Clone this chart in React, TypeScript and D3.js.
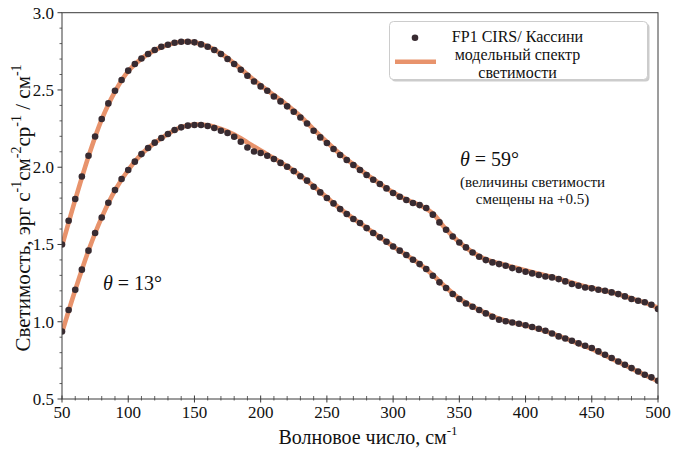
import React from "react";
import * as d3 from "d3";

// x grid of the measured points (cm^-1)
const WN_START = 50;
const WN_STEP = 5;
// x grid of the model curves
const MODEL_STEP = 10;

// θ = 59° (shifted by +0.5), CIRS points
const upperPoints = [
  1.5, 1.654, 1.794, 1.94, 2.074, 2.199, 2.312, 2.413, 2.495, 2.564,
  2.625, 2.668, 2.704, 2.733, 2.759, 2.78, 2.793, 2.806, 2.812, 2.812,
  2.808, 2.795, 2.78, 2.759, 2.733, 2.7, 2.668, 2.631, 2.592, 2.555,
  2.523, 2.495, 2.458, 2.426, 2.394, 2.359, 2.322, 2.283, 2.236, 2.193,
  2.157, 2.118, 2.079, 2.047, 2.014, 1.982, 1.95, 1.919, 1.891, 1.863,
  1.833, 1.809, 1.788, 1.768, 1.755, 1.736, 1.693, 1.643, 1.595, 1.552,
  1.513, 1.481, 1.448, 1.421, 1.399, 1.384, 1.373, 1.362, 1.347, 1.335,
  1.324, 1.313, 1.302, 1.293, 1.287, 1.276, 1.261, 1.244, 1.233, 1.222,
  1.216, 1.207, 1.201, 1.19, 1.179, 1.164, 1.147, 1.136, 1.126, 1.11,
  1.082,
];

// θ = 13°, CIRS points
const lowerPoints = [
  0.937, 1.076, 1.207, 1.337, 1.46, 1.574, 1.675, 1.77, 1.852, 1.924,
  1.982, 2.036, 2.085, 2.124, 2.159, 2.189, 2.215, 2.241, 2.258, 2.269,
  2.273, 2.273, 2.267, 2.254, 2.236, 2.221, 2.197, 2.165, 2.128, 2.102,
  2.092, 2.074, 2.053, 2.028, 2.003, 1.975, 1.942, 1.913, 1.874, 1.837,
  1.801, 1.766, 1.729, 1.697, 1.665, 1.639, 1.606, 1.574, 1.546, 1.518,
  1.487, 1.46, 1.432, 1.401, 1.373, 1.341, 1.298, 1.255, 1.218, 1.18,
  1.147, 1.118, 1.097, 1.076, 1.054, 1.032, 1.013, 1.003, 0.995, 0.987,
  0.977, 0.966, 0.955, 0.942, 0.924, 0.905, 0.892, 0.877, 0.86, 0.845,
  0.83, 0.808, 0.786, 0.765, 0.743, 0.722, 0.7, 0.678, 0.657, 0.64,
  0.618,
];

// model radiance spectra (every 10 cm^-1 from 50)
const upperModel = [
  1.49, 1.79, 2.07, 2.31, 2.49, 2.622, 2.703, 2.758, 2.793, 2.812,
  2.808, 2.782, 2.736, 2.672, 2.6, 2.53, 2.466, 2.402, 2.33, 2.245,
  2.163, 2.085, 2.018, 1.953, 1.893, 1.836, 1.79, 1.755, 1.7, 1.598,
  1.515, 1.45, 1.404, 1.378, 1.355, 1.332, 1.31, 1.29, 1.266, 1.24,
  1.218, 1.2, 1.178, 1.15, 1.124, 1.09,
];
const lowerModel = [
  0.93, 1.205, 1.46, 1.675, 1.85, 1.982, 2.085, 2.158, 2.215, 2.259,
  2.276, 2.272, 2.248, 2.212, 2.16, 2.108, 2.058, 2.006, 1.946, 1.877,
  1.804, 1.732, 1.668, 1.608, 1.548, 1.488, 1.432, 1.374, 1.303, 1.222,
  1.15, 1.098, 1.056, 1.02, 0.996, 0.975, 0.952, 0.925, 0.892, 0.857,
  0.824, 0.782, 0.74, 0.698, 0.655, 0.615,
];

const xMajorTicks = [50, 100, 150, 200, 250, 300, 350, 400, 450, 500];
const yMajorTicks = [0.5, 1.0, 1.5, 2.0, 2.5, 3.0];

const legendLabels = ["FP1 CIRS/ Кассини", "модельный спектр", "светимости"];
const xTitle = "Волновое число, см";
const theta13 = "13°";
const theta59 = "59°";
const noteLines = ["(величины светимости", "смещены на +0.5)"];

const W = 675;
const H = 449;
const DOT = "#382b31";
const MODEL = "#e8936c";
const AXIS = "#3a3a3a";
const TS = { fontFamily: '"Liberation Serif", serif' } as React.CSSProperties;

export default function App() {
  const x = d3.scaleLinear().domain([50, 500]).range([62, 658]);
  const y = d3.scaleLinear().domain([0.5, 3.0]).range([399, 12.7]);
  const [x0, x1] = x.range();
  const [y0, y1] = y.range();

  const toPts = (vals: number[], step: number) =>
    vals.map((v, i) => [WN_START + i * step, v] as [number, number]);

  const line = d3
    .line<[number, number]>()
    .x((d) => x(d[0]))
    .y((d) => y(d[1]))
    .curve(d3.curveCatmullRom.alpha(0.5));

  const xMinor = d3.range(50, 501, 10).filter((v) => !xMajorTicks.includes(v));
  const yMinor = d3
    .range(5, 31, 1)
    .map((v) => v / 10)
    .filter((v) => !yMajorTicks.some((t) => Math.abs(t - v) < 1e-9));

  const fmt = d3.format(".1f");

  return (
    <svg
      width={W}
      height={H}
      style={{ position: "absolute", left: 0, top: 0, background: "#fff" }}
    >
      <defs>
        <clipPath id="plot">
          <rect x={x0} y={y1} width={x1 - x0} height={y0 - y1} />
        </clipPath>
      </defs>
      <rect x={0} y={0} width={W} height={H} fill="#fff" />

      <g clipPath="url(#plot)">
        {[upperModel, lowerModel].map((m, i) => (
          <path
            key={"m" + i}
            d={line(toPts(m, MODEL_STEP)) || ""}
            fill="none"
            stroke={MODEL}
            strokeWidth={4.6}
            strokeLinejoin="round"
          />
        ))}
        {[upperPoints, lowerPoints].map((s, i) =>
          toPts(s, WN_STEP).map((d, j) => (
            <circle
              key={"p" + i + "-" + j}
              cx={x(d[0])}
              cy={y(d[1])}
              r={3.3}
              fill={DOT}
            />
          ))
        )}
      </g>

      {/* frame */}
      <rect
        x={x0}
        y={y1}
        width={x1 - x0}
        height={y0 - y1}
        fill="none"
        stroke={AXIS}
        strokeWidth={1}
      />

      {/* x ticks */}
      {xMajorTicks.map((t) => (
        <g key={"xt" + t}>
          <line x1={x(t)} x2={x(t)} y1={y0 - 3.5} y2={y0 + 3.5} stroke={AXIS} />
          <text
            x={x(t)}
            y={y0 + 19}
            textAnchor="middle"
            fontSize={17}
            fill="#111"
            style={TS}
          >
            {t}
          </text>
        </g>
      ))}
      {xMinor.map((t) => (
        <line key={"xm" + t} x1={x(t)} x2={x(t)} y1={y0 - 3} y2={y0 + 1.5} stroke={AXIS} strokeWidth={0.8} />
      ))}

      {/* y ticks */}
      {yMajorTicks.map((t) => (
        <g key={"yt" + t}>
          <line x1={x0 - 4.5} x2={x0} y1={y(t)} y2={y(t)} stroke={AXIS} />
          <text
            x={x0 - 8}
            y={y(t) + 6}
            textAnchor="end"
            fontSize={17}
            fill="#111"
            style={TS}
          >
            {fmt(t)}
          </text>
        </g>
      ))}
      {yMinor.map((t) => (
        <line key={"ym" + t} x1={x0 - 2.5} x2={x0} y1={y(t)} y2={y(t)} stroke={AXIS} strokeWidth={0.8} />
      ))}

      {/* x title */}
      <text x={368} y={444} textAnchor="middle" fontSize={20} fill="#111" style={TS}>
        {xTitle}
        <tspan dy={-9} fontSize={13}>-1</tspan>
      </text>

      {/* y title */}
      <text
        transform="translate(30,208) rotate(-90)"
        textAnchor="middle"
        fontSize={21}
        fill="#111"
        style={TS}
      >
        {"Светимость, эрг с"}
        <tspan dy={-9} fontSize={14}>-1</tspan>
        <tspan dy={9}>см</tspan>
        <tspan dy={-9} fontSize={14}>-2</tspan>
        <tspan dy={9}>ср</tspan>
        <tspan dy={-9} fontSize={14}>-1</tspan>
        <tspan dy={9}>{" / см"}</tspan>
        <tspan dy={-9} fontSize={14}>-1</tspan>
      </text>

      {/* theta annotations */}
      <text x={103} y={290} fontSize={20} fill="#111" style={TS}>
        <tspan fontStyle="italic">θ</tspan>
        <tspan>{" = " + theta13}</tspan>
      </text>
      <text x={460} y={166} fontSize={20} fill="#111" style={TS}>
        <tspan fontStyle="italic">θ</tspan>
        <tspan>{" = " + theta59}</tspan>
      </text>
      {noteLines.map((l, i) => (
        <text
          key={"n" + i}
          x={532.5}
          y={186.5 + i * 17}
          textAnchor="middle"
          fontSize={15}
          fill="#111"
          style={TS}
        >
          {l}
        </text>
      ))}

      {/* legend */}
      <rect x={391.5} y={23.5} width={258} height={58} rx={4} fill="#999" opacity={0.5} />
      <rect x={389.5} y={21.5} width={258} height={58} rx={4} fill="#fff" stroke="#cccccc" strokeWidth={1} />
      <circle cx={415} cy={37.7} r={3.3} fill={DOT} />
      <line x1={395} x2={436} y1={61.7} y2={61.7} stroke={MODEL} strokeWidth={4.6} />
      {legendLabels.map((l, i) => (
        <text
          key={"l" + i}
          x={517.5}
          y={42 + i * 17.8}
          textAnchor="middle"
          fontSize={16}
          fill="#111"
          style={TS}
        >
          {l}
        </text>
      ))}
    </svg>
  );
}
